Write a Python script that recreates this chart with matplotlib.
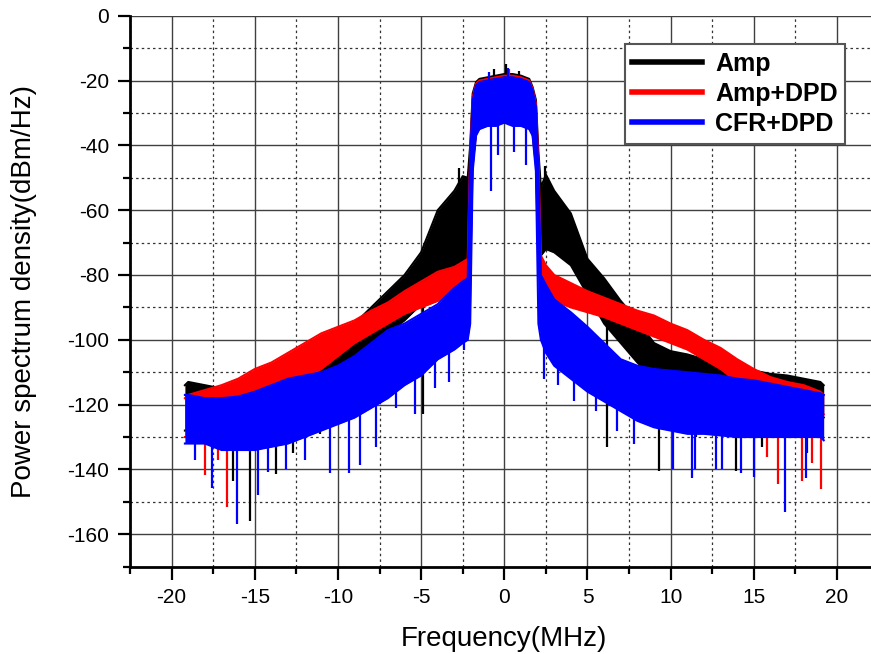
import matplotlib

matplotlib.use("Agg")

import matplotlib.pyplot as plt
import numpy as np
from matplotlib.ticker import MultipleLocator

plt.rcParams["font.family"] = ["Liberation Sans", "DejaVu Sans"]
plt.rcParams["axes.unicode_minus"] = False

FREQ_MHZ = [-19.2, -19, -18, -17, -16, -15, -14, -13, -12, -11, -10, -9, -8, -7,
            -6, -5, -4, -3, -2.5, -2.2,
            -2.05, -1.9, -1.7, -1.5, -1, -0.5, 0, 0.5, 1, 1.5, 1.7, 1.9, 2.05,
            2.2, 2.5, 3, 4, 5, 6, 7, 8, 9, 10, 11, 12, 13, 14, 15, 16, 17, 18,
            19, 19.2]

# upper / lower envelope of each spectrum (dBm/Hz)
AMP_UPPER = [-114, -113, -114, -115, -114, -112, -110, -108, -106, -103, -100, -95,
             -90, -85, -80, -73, -60, -54, -49.5, -50,
             -40, -24, -20.5, -19.5, -19, -18.5, -18, -18, -18.5, -19.5, -22, -26, -42,
             -53, -49, -54, -61, -75, -81, -88, -94, -101, -103.5, -104.5, -106,
             -107, -108.5, -109.5, -110.5, -111, -112, -113, -114]
AMP_LOWER = [-128, -128, -127, -126, -124, -122, -120, -118, -116, -113, -110, -106,
             -102, -98, -94, -89, -83, -79, -78, -80,
             -70, -45, -36, -34, -33, -33, -32, -33, -33, -34, -36, -45, -70,
             -74, -72, -73, -77, -86, -95, -101, -107, -112, -115, -116, -117,
             -118, -119, -120, -121, -121, -122, -123, -124]

DPD_UPPER = [-118, -117, -115.5, -114, -112, -109, -107, -104, -101, -98, -96, -94,
             -91, -88.5, -85, -82, -79, -77.5, -76, -75,
             -42, -25, -21, -20, -19.5, -19, -18.5, -18.5, -19, -20, -22.5, -27, -45,
             -74, -77, -80, -82.5, -85, -87, -89, -91, -92.5, -95, -97, -100,
             -102.5, -106, -109, -111.5, -113, -114, -116, -117]
DPD_LOWER = [-130, -130, -128, -126, -122, -119, -117, -114, -112, -109, -105, -101,
             -98, -95, -92, -90, -88, -86, -85, -84,
             -78, -46, -36.5, -34.5, -33.5, -33.5, -32.5, -33.5, -33.5, -34.5, -36.5, -46, -78,
             -84, -86, -88, -90, -91.5, -93, -95, -97, -99, -101, -103, -106,
             -109, -113, -116, -119, -120, -121, -122, -123]

CFR_UPPER = [-117, -117, -118, -118, -117.5, -116, -114, -112, -111, -110, -108, -105,
             -101, -97, -95, -92, -89, -84, -82, -81,
             -44, -26, -21.5, -20.5, -20, -19.5, -19, -19, -19.5, -20.5, -23, -28, -48,
             -80, -83, -87.5, -91.5, -96, -101, -106, -108, -109, -109.5, -110,
             -110.5, -111, -112, -112.5, -113.5, -114.5, -115.5, -116.5, -117]
CFR_LOWER = [-132, -132, -132, -134, -134, -134, -133, -132, -130, -128, -126, -124,
             -121, -118, -114, -111, -106, -103, -101, -100,
             -95, -48, -37, -35, -34, -34, -33, -34, -34, -35, -37, -48, -95,
             -100, -104, -108, -112, -116, -119, -122, -125, -127, -128, -129, -129,
             -129.5, -130, -130, -130, -130, -130, -130, -131]

# isolated spikes that stick out of each trace: (frequency MHz, level dBm/Hz)
AMP_SPIKE_FREQ = [-16.3, -15.3, -13.7, -12.7, -11.1, -4.9, -2.4, 6.2, 8.5, 9.29,
                  11.5, 13.93, 15.5, 18.2,
                  -2.7, -0.6, 0.1, 0.9, 2.45]
AMP_SPIKE_DB = [-143.5, -156, -141.4, -135, -129, -123, -95, -133, -126, -140.4,
                -130, -140.4, -133, -135,
                -47, -16.5, -15, -17, -46.5]
DPD_SPIKE_FREQ = [-18.0, -17.2, -16.66, -14.5, -12.2, 15.8, 16.43, 17.88, 18.5, 19.04,
                  0.3]
DPD_SPIKE_DB = [-141.8, -137, -151.6, -133, -128, -136, -144.6, -143.6, -138, -146,
                -16.5]
CFR_SPIKE_FREQ = [-18.6, -17.6, -16.05, -14.78, -14.2, -13.1, -12.0, -10.45, -9.33,
                  -8.67, -7.7, -6.5, -5.34, -4.14, -3.3, -2.4, -0.8, -0.4, 0.6, 1.3,
                  2.4, 3.2, 4.2, 5.5, 6.8, 7.8, 10.13, 11.27, 11.47, 12.7, 13.1, 14.2,
                  15.0, 16.89, 18.14, -0.9, 0.2]
CFR_SPIKE_DB = [-137, -145.7, -156.8, -148, -140.7, -140, -137, -141, -141, -138.6,
                -133, -121, -123, -115, -113, -103, -54, -43, -42, -46,
                -112, -114, -119, -122, -128, -132, -140, -142.7, -140, -140, -140,
                -141, -142.2, -153.2, -142.7, -17.5, -16]

SERIES = [
    ("Amp", "black", AMP_UPPER, AMP_LOWER, AMP_SPIKE_FREQ, AMP_SPIKE_DB),
    ("Amp+DPD", "#ff0000", DPD_UPPER, DPD_LOWER, DPD_SPIKE_FREQ, DPD_SPIKE_DB),
    ("CFR+DPD", "#0000ff", CFR_UPPER, CFR_LOWER, CFR_SPIKE_FREQ, CFR_SPIKE_DB),
]

W, H = 871, 654
fig = plt.figure(figsize=(W / 100, H / 100), dpi=100)
ax = fig.add_axes([130 / W, 1 - 566.7 / H, (878.6 - 130) / W, 551 / H])

freq = np.asarray(FREQ_MHZ)
for label, color, upper, lower, spike_f, spike_db in SERIES:
    upper = np.asarray(upper, dtype=float)
    lower = np.asarray(lower, dtype=float)
    ax.fill_between(freq, lower, upper, color=color, linewidth=0, zorder=3)
    ax.plot(freq, upper, color=color, linewidth=1.5, label=label, zorder=3)
    ax.plot(freq, lower, color=color, linewidth=1.5, zorder=3)
    spike_f = np.asarray(spike_f)
    base = np.interp(spike_f, freq, (upper + lower) / 2)
    ax.vlines(spike_f, spike_db, base, color=color, linewidth=1.6, zorder=3)

ax.set_xlim(-22.5, 22.5)
ax.set_ylim(-170, 0)
ax.xaxis.set_major_locator(MultipleLocator(5))
ax.xaxis.set_minor_locator(MultipleLocator(2.5))
ax.yaxis.set_major_locator(MultipleLocator(20))
ax.yaxis.set_minor_locator(MultipleLocator(10))

ax.set_axisbelow(True)
ax.grid(which="major", color="#404040", linewidth=1.0, linestyle="-")
ax.grid(which="minor", color="#333333", linewidth=0.9, linestyle=(0, (2, 2.5)))

for side in ("top", "right"):
    ax.spines[side].set_visible(False)
for side in ("left", "bottom"):
    ax.spines[side].set_linewidth(2)

ax.tick_params(which="major", direction="out", length=9, width=1.6,
               labelsize=15, pad=6)
ax.tick_params(which="minor", direction="out", length=5, width=1.6)

ax.set_xlabel("Frequency(MHz)", fontsize=20, labelpad=14)
ax.set_ylabel("Power spectrum density(dBm/Hz)", fontsize=20, labelpad=22)

legend = ax.legend(
    loc="upper right",
    bbox_to_anchor=(845 / W, 1 - 44 / H),
    bbox_transform=fig.transFigure,
    borderaxespad=0,
    prop={"weight": "bold", "size": 18},
    handlelength=2.8,
    handletextpad=0.5,
    labelspacing=0.25,
    borderpad=0.3,
    fancybox=False,
    framealpha=1,
    edgecolor="#555555",
)
legend.get_frame().set_linewidth(1.5)
for handle in legend.get_lines():
    handle.set_linewidth(4)

fig.savefig("out.png", dpi=100)
